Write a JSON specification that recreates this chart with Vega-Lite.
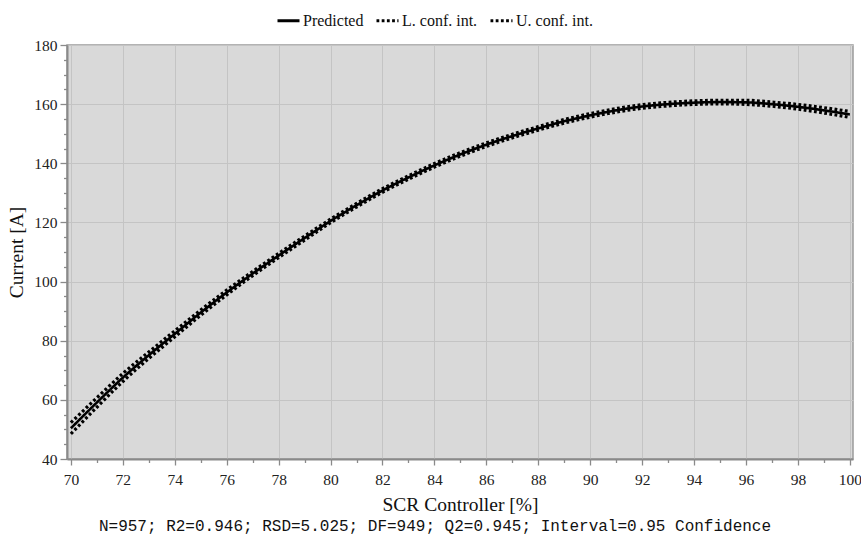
{
  "$schema": "https://vega.github.io/schema/vega-lite/v6.json",
  "width": 786,
  "height": 414,
  "autosize": {"type": "none"},
  "padding": {"left": 67, "top": 45, "right": 8, "bottom": 76},
  "background": "white",
  "title": {
    "text": "N=957; R2=0.946; RSD=5.025; DF=949; Q2=0.945; Interval=0.95 Confidence",
    "orient": "bottom",
    "anchor": "middle",
    "dx": -25,
    "offset": 4,
    "font": "Liberation Mono",
    "fontSize": 16,
    "fontWeight": "normal",
    "color": "#111111"
  },
  "config": {
    "view": {"fill": "#d9d9d9", "stroke": "#9a9a9a", "strokeWidth": 1.5},
    "axis": {
      "labelFont": "Liberation Serif",
      "labelFontSize": 15.5,
      "labelColor": "#222222",
      "titleFont": "Liberation Serif",
      "titleFontSize": 19.5,
      "titleFontWeight": "normal",
      "titleColor": "#111111",
      "domainColor": "#8a8a8a",
      "domainWidth": 2,
      "tickColor": "#8a8a8a",
      "tickWidth": 1.3,
      "gridColor": "#c4c4c4",
      "gridWidth": 1
    },
    "legend": {
      "labelFont": "Liberation Serif",
      "labelFontSize": 16,
      "labelColor": "#111111"
    }
  },
  "data": {
    "values": [
      {"x": 70, "y": 50.4, "s": "Predicted"}, {"x": 71, "y": 59.1, "s": "Predicted"}, {"x": 72, "y": 67.5, "s": "Predicted"}, {"x": 73, "y": 75.1, "s": "Predicted"}, {"x": 74, "y": 82.3, "s": "Predicted"}, {"x": 75, "y": 89.5, "s": "Predicted"}, {"x": 76, "y": 96.3, "s": "Predicted"}, {"x": 77, "y": 102.7, "s": "Predicted"}, {"x": 78, "y": 108.8, "s": "Predicted"}, {"x": 79, "y": 114.7, "s": "Predicted"}, {"x": 80, "y": 120.5, "s": "Predicted"}, {"x": 81, "y": 125.8, "s": "Predicted"}, {"x": 82, "y": 130.8, "s": "Predicted"}, {"x": 83, "y": 135.2, "s": "Predicted"}, {"x": 84, "y": 139.3, "s": "Predicted"}, {"x": 85, "y": 143.0, "s": "Predicted"}, {"x": 86, "y": 146.3, "s": "Predicted"}, {"x": 87, "y": 149.2, "s": "Predicted"}, {"x": 88, "y": 151.8, "s": "Predicted"}, {"x": 89, "y": 154.2, "s": "Predicted"}, {"x": 90, "y": 156.2, "s": "Predicted"}, {"x": 91, "y": 157.9, "s": "Predicted"}, {"x": 92, "y": 159.2, "s": "Predicted"}, {"x": 93, "y": 160.0, "s": "Predicted"}, {"x": 94, "y": 160.5, "s": "Predicted"}, {"x": 95, "y": 160.7, "s": "Predicted"}, {"x": 96, "y": 160.6, "s": "Predicted"}, {"x": 97, "y": 160.0, "s": "Predicted"}, {"x": 98, "y": 159.1, "s": "Predicted"}, {"x": 99, "y": 157.9, "s": "Predicted"}, {"x": 100, "y": 156.5, "s": "Predicted"},
      {"x": 70, "y": 48.5, "s": "L. conf. int."}, {"x": 71, "y": 57.5, "s": "L. conf. int."}, {"x": 72, "y": 66.2, "s": "L. conf. int."}, {"x": 73, "y": 74.0, "s": "L. conf. int."}, {"x": 74, "y": 81.3, "s": "L. conf. int."}, {"x": 75, "y": 88.6, "s": "L. conf. int."}, {"x": 76, "y": 95.5, "s": "L. conf. int."}, {"x": 77, "y": 102.0, "s": "L. conf. int."}, {"x": 78, "y": 108.1, "s": "L. conf. int."}, {"x": 79, "y": 114.0, "s": "L. conf. int."}, {"x": 80, "y": 119.9, "s": "L. conf. int."}, {"x": 81, "y": 125.2, "s": "L. conf. int."}, {"x": 82, "y": 130.2, "s": "L. conf. int."}, {"x": 83, "y": 134.6, "s": "L. conf. int."}, {"x": 84, "y": 138.7, "s": "L. conf. int."}, {"x": 85, "y": 142.4, "s": "L. conf. int."}, {"x": 86, "y": 145.7, "s": "L. conf. int."}, {"x": 87, "y": 148.6, "s": "L. conf. int."}, {"x": 88, "y": 151.2, "s": "L. conf. int."}, {"x": 89, "y": 153.6, "s": "L. conf. int."}, {"x": 90, "y": 155.6, "s": "L. conf. int."}, {"x": 91, "y": 157.3, "s": "L. conf. int."}, {"x": 92, "y": 158.6, "s": "L. conf. int."}, {"x": 93, "y": 159.4, "s": "L. conf. int."}, {"x": 94, "y": 159.9, "s": "L. conf. int."}, {"x": 95, "y": 160.1, "s": "L. conf. int."}, {"x": 96, "y": 159.9, "s": "L. conf. int."}, {"x": 97, "y": 159.3, "s": "L. conf. int."}, {"x": 98, "y": 158.3, "s": "L. conf. int."}, {"x": 99, "y": 157.0, "s": "L. conf. int."}, {"x": 100, "y": 155.5, "s": "L. conf. int."},
      {"x": 70, "y": 52.3, "s": "U. conf. int."}, {"x": 71, "y": 60.7, "s": "U. conf. int."}, {"x": 72, "y": 68.9, "s": "U. conf. int."}, {"x": 73, "y": 76.2, "s": "U. conf. int."}, {"x": 74, "y": 83.3, "s": "U. conf. int."}, {"x": 75, "y": 90.4, "s": "U. conf. int."}, {"x": 76, "y": 97.1, "s": "U. conf. int."}, {"x": 77, "y": 103.4, "s": "U. conf. int."}, {"x": 78, "y": 109.5, "s": "U. conf. int."}, {"x": 79, "y": 115.4, "s": "U. conf. int."}, {"x": 80, "y": 121.1, "s": "U. conf. int."}, {"x": 81, "y": 126.4, "s": "U. conf. int."}, {"x": 82, "y": 131.4, "s": "U. conf. int."}, {"x": 83, "y": 135.8, "s": "U. conf. int."}, {"x": 84, "y": 139.9, "s": "U. conf. int."}, {"x": 85, "y": 143.6, "s": "U. conf. int."}, {"x": 86, "y": 146.9, "s": "U. conf. int."}, {"x": 87, "y": 149.8, "s": "U. conf. int."}, {"x": 88, "y": 152.4, "s": "U. conf. int."}, {"x": 89, "y": 154.8, "s": "U. conf. int."}, {"x": 90, "y": 156.8, "s": "U. conf. int."}, {"x": 91, "y": 158.5, "s": "U. conf. int."}, {"x": 92, "y": 159.8, "s": "U. conf. int."}, {"x": 93, "y": 160.6, "s": "U. conf. int."}, {"x": 94, "y": 161.1, "s": "U. conf. int."}, {"x": 95, "y": 161.3, "s": "U. conf. int."}, {"x": 96, "y": 161.3, "s": "U. conf. int."}, {"x": 97, "y": 160.7, "s": "U. conf. int."}, {"x": 98, "y": 159.9, "s": "U. conf. int."}, {"x": 99, "y": 158.8, "s": "U. conf. int."}, {"x": 100, "y": 157.5, "s": "U. conf. int."}
    ]
  },
  "layer": [
    {
      "transform": [{"filter": "datum.s === 'Predicted'"}],
      "mark": {"type": "line", "strokeWidth": 2.6, "interpolate": "monotone"},
      "encoding": {
        "x": {
          "field": "x", "type": "quantitative",
          "scale": {"domain": [69.85, 100.12], "nice": false, "zero": false},
          "axis": {
            "values": [70, 72, 74, 76, 78, 80, 82, 84, 86, 88, 90, 92, 94, 96, 98, 100],
            "grid": true, "tickSize": 6, "labelPadding": 7, "labelFlush": false,
            "title": "SCR Controller [%]", "titlePadding": 8, "orient": "bottom"
          }
        },
        "y": {
          "field": "y", "type": "quantitative",
          "scale": {"domain": [40, 180], "nice": false, "zero": false},
          "axis": {
            "values": [40, 60, 80, 100, 120, 140, 160, 180],
            "grid": true, "tickSize": 7, "labelPadding": 3,
            "title": "Current [A]", "titlePadding": 7, "orient": "left"
          }
        },
        "color": {
          "field": "s", "type": "nominal",
          "scale": {"domain": ["Predicted", "L. conf. int.", "U. conf. int."], "range": ["#000000", "#000000", "#000000"]},
          "legend": {
            "orient": "none", "legendX": 209, "legendY": -37, "direction": "horizontal",
            "title": null, "symbolType": "stroke", "symbolSize": 484, "symbolStrokeWidth": 3,
            "labelOffset": 2, "columnPadding": 6
          }
        },
        "strokeDash": {
          "field": "s", "type": "nominal",
          "scale": {"domain": ["Predicted", "L. conf. int.", "U. conf. int."], "range": [[1, 0], [2.8, 2.4], [2.8, 2.4]]},
          "legend": {
            "orient": "none", "legendX": 209, "legendY": -37, "direction": "horizontal",
            "title": null, "symbolType": "stroke", "symbolSize": 484, "symbolStrokeWidth": 3,
            "labelOffset": 2, "columnPadding": 6
          }
        }
      }
    },
    {
      "transform": [{"filter": "datum.s !== 'Predicted'"}],
      "mark": {"type": "line", "strokeWidth": 3.2, "interpolate": "monotone"},
      "encoding": {
        "x": {
          "field": "x", "type": "quantitative",
          "axis": {
            "values": [71, 73, 75, 77, 79, 81, 83, 85, 87, 89, 91, 93, 95, 97, 99],
            "grid": false, "labels": false, "domain": false, "tickSize": 3.5,
            "title": null, "orient": "bottom"
          }
        },
        "y": {
          "field": "y", "type": "quantitative",
          "axis": {
            "values": [45, 50, 55, 65, 70, 75, 85, 90, 95, 105, 110, 115, 125, 130, 135, 145, 150, 155, 165, 170, 175],
            "grid": false, "labels": false, "domain": false, "tickSize": 3.5,
            "title": null, "orient": "left"
          }
        },
        "color": {"field": "s", "type": "nominal"},
        "strokeDash": {"field": "s", "type": "nominal"}
      }
    }
  ],
  "resolve": {"axis": {"x": "independent", "y": "independent"}}
}
